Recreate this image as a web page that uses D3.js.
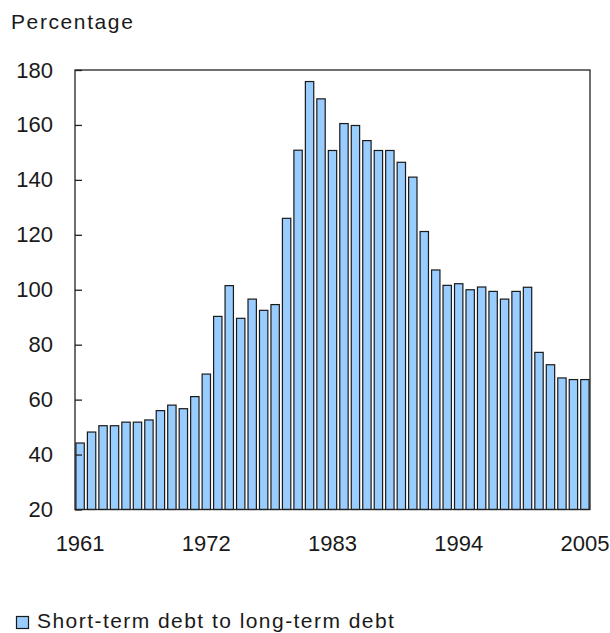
<!DOCTYPE html>
<html>
<head>
<meta charset="utf-8">
<script src="https://cdn.jsdelivr.net/npm/d3@7"></script>
<style>
  html, body { margin: 0; padding: 0; background: #fff; }
  svg { display: block; font-family: "Liberation Sans", Arial, sans-serif; }
</style>
</head>
<body>
<svg id="chart" width="610" height="633"></svg>
<script>
// Ratio of short-term debt to long-term debt, 1961 to 2005 (percent)
const years = d3.range(1961, 2006);
const ratio = [
  44.2, 48.2, 50.5, 50.5, 51.8, 51.8, 52.6, 56.0, 58.0, 56.7,
  61.1, 69.3, 90.3, 101.5, 89.6, 96.6, 92.5, 94.6, 126.0, 150.8,
  175.8, 169.5, 150.7, 160.5, 159.8, 154.3, 150.7, 150.7, 146.4, 141.0,
  121.2, 107.2, 101.6, 102.2, 100.0, 101.0, 99.4, 96.6, 99.4, 100.9,
  77.2, 72.7, 67.9, 67.3, 67.3
];
const yTicks = [20, 40, 60, 80, 100, 120, 140, 160, 180];
const xLabels = [1961, 1972, 1983, 1994, 2005];
const yTitle = "Percentage";
const seriesName = "Short-term debt to long-term debt";

const svg = d3.select("#chart");
const plot = { left: 75, right: 590, top: 70, bottom: 509.5 };

const x = d3.scaleBand()
  .domain(years)
  .range([plot.left, plot.right])
  .paddingInner(0.27)
  .paddingOuter(0.08);

const y = d3.scaleLinear()
  .domain([20, 180])
  .range([plot.bottom, plot.top]);

// Bars
svg.append("g")
  .selectAll("rect")
  .data(years.map((yr, i) => ({ yr, v: ratio[i] })))
  .join("rect")
  .attr("x", d => x(d.yr))
  .attr("y", d => y(d.v))
  .attr("width", x.bandwidth())
  .attr("height", d => y(20) - y(d.v))
  .attr("fill", "#99ccff")
  .attr("stroke", "#1a1a1a")
  .attr("stroke-width", 1.2);

// Plot frame
svg.append("rect")
  .attr("x", plot.left).attr("y", plot.top)
  .attr("width", plot.right - plot.left).attr("height", plot.bottom - plot.top)
  .attr("fill", "none")
  .attr("stroke", "#222")
  .attr("stroke-width", 1.3);

// Y axis: inward ticks, labels on the left
const yAxis = d3.axisLeft(y)
  .tickValues(yTicks)
  .tickSize(-7)
  .tickPadding(22);
const gy = svg.append("g")
  .attr("transform", `translate(${plot.left},0)`)
  .call(yAxis);
gy.select(".domain").remove();
gy.selectAll(".tick line").attr("stroke", "#222").attr("stroke-width", 1.3);
gy.selectAll(".tick text")
  .attr("fill", "#1a1a1a")
  .style("font-size", "22px")
  .style("font-family", "'Liberation Sans', Arial, sans-serif");

// X axis: labels only
const xAxis = d3.axisBottom(x)
  .tickValues(xLabels)
  .tickSize(0)
  .tickPadding(26);
const gx = svg.append("g")
  .attr("transform", `translate(0,${plot.bottom})`)
  .call(xAxis);
gx.select(".domain").remove();
gx.selectAll(".tick text")
  .attr("fill", "#1a1a1a")
  .style("font-size", "22px")
  .style("font-family", "'Liberation Sans', Arial, sans-serif");

// Axis title
svg.append("text")
  .attr("x", 11).attr("y", 29)
  .attr("fill", "#1a1a1a")
  .style("font-size", "21px")
  .style("letter-spacing", "1.6px")
  .text(yTitle);

// Legend
svg.append("rect")
  .attr("x", 16.5).attr("y", 616.5)
  .attr("width", 12).attr("height", 12)
  .attr("fill", "#99ccff")
  .attr("stroke", "#1a1a1a")
  .attr("stroke-width", 1.2);
svg.append("text")
  .attr("x", 37).attr("y", 628)
  .attr("fill", "#1a1a1a")
  .style("font-size", "21px")
  .style("letter-spacing", "1.45px")
  .text(seriesName);
</script>
</body>
</html>
